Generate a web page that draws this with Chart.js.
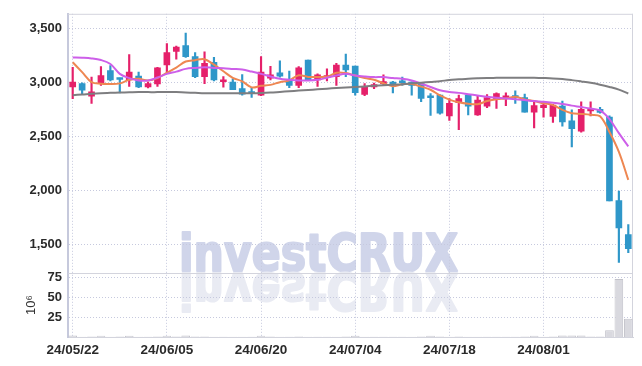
<!DOCTYPE html>
<html>
<head>
<meta charset="utf-8">
<script src="https://cdn.jsdelivr.net/npm/chart.js@4.4.1/dist/chart.umd.min.js"></script>
<style>
  html, body { margin: 0; padding: 0; background: #fff; }
  #wrap { position: relative; width: 642px; height: 366px; }
</style>
</head>
<body>
<div id="wrap"><canvas id="chart" width="642" height="366"></canvas></div>
<script>
const dates = [
  '24/05/22', '24/05/23', '24/05/24', '24/05/27', '24/05/28', '24/05/29', '24/05/30', '24/05/31',
  '24/06/03', '24/06/04', '24/06/05', '24/06/07', '24/06/10', '24/06/11', '24/06/12', '24/06/13',
  '24/06/14', '24/06/17', '24/06/18', '24/06/19', '24/06/20', '24/06/21', '24/06/24', '24/06/25',
  '24/06/26', '24/06/27', '24/06/28', '24/07/01', '24/07/02', '24/07/03', '24/07/04', '24/07/05',
  '24/07/08', '24/07/09', '24/07/10', '24/07/11', '24/07/12', '24/07/15', '24/07/16', '24/07/17',
  '24/07/18', '24/07/19', '24/07/22', '24/07/23', '24/07/24', '24/07/25', '24/07/26', '24/07/29',
  '24/07/30', '24/07/31', '24/08/01', '24/08/02', '24/08/05', '24/08/06', '24/08/07', '24/08/08',
  '24/08/09', '24/08/12', '24/08/13', '24/08/14',
];

const opens = [
  2958, 2988, 2872, 2997, 3109, 3036, 3024, 3058, 2958, 2985,
  3161, 3286, 3340, 3240, 3054, 3186, 3006, 3003, 2942, 2905,
  2882, 3040, 3088, 3027, 2973, 3207, 3024, 3043, 3054, 3161,
  3152, 2888, 2958, 2988, 3003, 3009, 3003, 2988, 2872, 2882,
  2690, 2812, 2882, 2699, 2781, 2842, 2858, 2876, 2860, 2724,
  2767, 2685, 2781, 2645, 2548, 2736, 2751, 2679, 1906, 1591,
];
const highs = [
  3140, 2995, 3049, 3146, 3155, 3040, 3258, 3095, 3003, 3140,
  3359, 3337, 3456, 3277, 3282, 3231, 3054, 3033, 3073, 2955,
  3240, 3149, 3200, 3104, 3146, 3207, 3079, 3125, 3177, 3261,
  3152, 2988, 2994, 3070, 3010, 3049, 3006, 2994, 2897, 2885,
  2851, 2882, 2888, 2876, 2888, 2903, 2903, 2921, 2891, 2821,
  2821, 2797, 2827, 2745, 2821, 2821, 2770, 2690, 1994, 1683,
];
const lows = [
  2850, 2890, 2806, 2973, 3013, 2903, 2963, 2952, 2949, 2963,
  3095, 3216, 3231, 3043, 2988, 3013, 2955, 2933, 2882, 2862,
  2876, 3024, 3049, 2952, 2952, 3015, 2963, 3013, 2973, 3054,
  2882, 2876, 2942, 2973, 2903, 2973, 2882, 2821, 2694, 2706,
  2648, 2563, 2699, 2694, 2767, 2760, 2785, 2806, 2724, 2578,
  2678, 2630, 2594, 2402, 2539, 2690, 2715, 1903, 1333, 1424,
];
const closes = [
  3003, 2927, 2912, 3064, 3024, 3027, 3095, 2958, 2988, 3134,
  3277, 3328, 3237, 3054, 3177, 3024, 3024, 2933, 2891, 2897,
  3095, 3070, 3058, 2973, 3134, 3018, 3070, 3064, 3161, 3116,
  2906, 2958, 2979, 3003, 2979, 2997, 2973, 2851, 2858, 2715,
  2806, 2851, 2781, 2836, 2860, 2897, 2876, 2860, 2724, 2785,
  2791, 2791, 2633, 2572, 2751, 2751, 2721, 1903, 1652, 1460,
];
// trading volume, millions of shares
const volumes = [
  1.8, 0.4, 0.5, 1.6, 0.4, 0.5, 1.5, 0.4, 0.3, 0.5,
  1.6, 0.5, 1.8, 0.5, 0.6, 0.4, 0.3, 0.4, 0.4, 0.3,
  1.7, 0.5, 0.4, 0.3, 0.5, 0.4, 0.3, 0.3, 0.4, 0.5,
  1.5, 0.4, 0.3, 0.3, 0.3, 0.3, 0.4, 0.5, 1.6, 0.6,
  0.4, 0.5, 0.4, 0.4, 0.3, 0.3, 0.3, 0.3, 0.5, 1.7,
  0.4, 0.5, 1.8, 1.9, 1.8, 0.5, 0.6, 8.4, 73, 23,
];
// moving averages
const maShort = [
  3186, 3095, 3003, 2988, 2986, 2991, 3024, 3034, 3018, 3040,
  3090, 3137, 3193, 3206, 3215, 3164, 3103, 3042, 3010, 2954,
  2968, 2977, 3002, 3019, 3066, 3051, 3051, 3052, 3089, 3086,
  3063, 3041, 3024, 2992, 2965, 2983, 2986, 2961, 2932, 2879,
  2841, 2816, 2802, 2798, 2827, 2845, 2850, 2866, 2843, 2828,
  2807, 2790, 2745, 2714, 2708, 2700, 2686, 2540, 2356, 2097,
];
const maMid = [
  3231, 3228, 3222, 3207, 3170, 3079, 3040, 3018, 3018, 3045,
  3079, 3100, 3125, 3134, 3140, 3134, 3131, 3125, 3119, 3100,
  3079, 3055, 3033, 3024, 3018, 3018, 3024, 3043, 3064, 3079,
  3064, 3055, 3049, 3049, 3040, 3033, 3018, 2988, 2958, 2927,
  2912, 2903, 2891, 2879, 2867, 2858, 2851, 2845, 2836, 2827,
  2821, 2812, 2800, 2785, 2772, 2758, 2740, 2660, 2530, 2408,
];
const maLong = [
  2882, 2888, 2895, 2900, 2903, 2906, 2908, 2910, 2910, 2910,
  2912, 2910, 2906, 2903, 2900, 2900, 2900, 2900, 2900, 2900,
  2902, 2906, 2912, 2918, 2924, 2930, 2936, 2942, 2948, 2953,
  2958, 2963, 2968, 2973, 2978, 2983, 2990, 2997, 3004, 3011,
  3022, 3028, 3034, 3038, 3041, 3042, 3043, 3043, 3043, 3042,
  3040, 3037, 3031, 3021, 3009, 2996, 2979, 2958, 2933, 2897,
];

const priceTicks = [1500, 2000, 2500, 3000, 3500];
const volumeTicks = [25, 50, 75];
const labelEvery = 10;

const FONT = "'Liberation Sans', Arial, sans-serif";
const UP = '#e5206a';
const DOWN = '#2f97c9';
const GRID = '#c6c9de';
const FRAME = '#d3d4dd';

const candleColors = opens.map((o, i) => (closes[i] >= o ? UP : DOWN));

const watermark = {
  id: 'watermark',
  beforeDraw(chart) {
    const { ctx } = chart;
    const x = 179;
    const base = 271;
    ctx.save();
    ctx.font = "bold 52px 'DejaVu Sans Condensed', 'DejaVu Sans', sans-serif";
    const w = ctx.measureText('investCRUX').width;
    const sx = 279 / w;
    ctx.textBaseline = 'alphabetic';
    ctx.lineJoin = 'round';
    ctx.lineWidth = 2;
    ctx.fillStyle = ctx.strokeStyle = '#d0d5ea';
    ctx.save();
    ctx.translate(x, base);
    ctx.scale(sx, 1);
    ctx.fillText('investCRUX', 0, 0);
    ctx.strokeText('investCRUX', 0, 0);
    ctx.restore();
    ctx.fillStyle = ctx.strokeStyle = '#e9ebf3';
    ctx.translate(x, base + 2);
    ctx.scale(sx, -1);
    ctx.fillText('investCRUX', 0, 0);
    ctx.strokeText('investCRUX', 0, 0);
    ctx.restore();
  },
};

const frame = {
  id: 'frame',
  beforeDatasetsDraw(chart) {
    const { ctx, chartArea } = chart;
    const split = chart.scales.y.bottom;
    ctx.save();
    ctx.strokeStyle = FRAME;
    ctx.lineWidth = 1;
    ctx.beginPath();
    ctx.moveTo(chartArea.left, chartArea.top + 0.5);
    ctx.lineTo(chartArea.right, chartArea.top + 0.5);
    ctx.moveTo(chartArea.right - 0.5, chartArea.top);
    ctx.lineTo(chartArea.right - 0.5, chartArea.bottom);
    ctx.moveTo(chartArea.left, Math.round(split) + 0.5);
    ctx.lineTo(chartArea.right, Math.round(split) + 0.5);
    ctx.stroke();
    ctx.restore();
  },
};

const lineSet = (data, color) => ({
  type: 'line',
  data,
  borderColor: color,
  borderWidth: 2,
  pointRadius: 0,
  tension: 0.35,
  yAxisID: 'y',
  order: 0,
});

new Chart(document.getElementById('chart').getContext('2d'), {
  type: 'bar',
  data: {
    labels: dates,
    datasets: [
      lineSet(maLong, '#7e7e80'),
      lineSet(maMid, '#cd5fe9'),
      lineSet(maShort, '#ee8752'),
      {
        data: opens.map((o, i) => [o, closes[i]]),
        backgroundColor: candleColors,
        barThickness: 6,
        minBarLength: 2,
        grouped: false,
        yAxisID: 'y',
        order: 1,
      },
      {
        data: lows.map((l, i) => [l, highs[i]]),
        backgroundColor: candleColors,
        barThickness: 1.5,
        grouped: false,
        yAxisID: 'y',
        order: 2,
      },
      {
        data: volumes,
        backgroundColor: '#d9d9df',
        borderColor: '#c2c2ca',
        borderWidth: 1,
        barPercentage: 0.92,
        categoryPercentage: 1,
        grouped: false,
        yAxisID: 'yv',
        order: 3,
      },
    ],
  },
  options: {
    responsive: false,
    animation: false,
    devicePixelRatio: 1,
    layout: { padding: { top: 9, right: 9, left: 0, bottom: 0 } },
    plugins: {
      legend: { display: false },
      tooltip: { enabled: false },
    },
    scales: {
      x: {
        offset: true,
        grid: { offset: false, color: GRID, drawTicks: false },
        border: { display: true, color: FRAME, width: 1, dash: [1, 2] },
        ticks: {
          autoSkip: false,
          maxRotation: 0,
          padding: 5,
          color: '#2a2a2a',
          font: { family: FONT, size: 13.5, weight: 'bold' },
        },
        afterBuildTicks: (axis) => {
          axis.ticks = axis.ticks.filter((t) => t.value % labelEvery === 0);
        },
        afterFit: (axis) => {
          axis.height = 29;
        },
      },
      yv: {
        position: 'left',
        stack: 'panes',
        stackWeight: 65,
        min: 0,
        max: 80.5,
        grid: { color: GRID, drawTicks: false },
        border: { display: true, color: '#c6c9dc', width: 2, dash: [1, 2] },
        ticks: {
          autoSkip: false,
          padding: 6,
          color: '#2a2a2a',
          font: { family: FONT, size: 13, weight: 'bold' },
        },
        title: {
          display: true,
          text: '10⁶',
          color: '#333',
          font: { family: FONT, size: 13 },
          padding: { top: 24, bottom: 0 },
        },
        afterBuildTicks: (axis) => {
          axis.ticks = volumeTicks.map((value) => ({ value }));
        },
        afterFit: (axis) => {
          axis.width = 68;
        },
      },
      y: {
        position: 'left',
        stack: 'panes',
        stackWeight: 263,
        min: 1236,
        max: 3635,
        grid: { color: GRID, drawTicks: false },
        border: { display: true, color: '#c6c9dc', width: 2, dash: [1, 2] },
        ticks: {
          autoSkip: false,
          padding: 6,
          color: '#2a2a2a',
          font: { family: FONT, size: 13, weight: 'bold' },
          callback: (v) => Number(v).toLocaleString('en-US'),
        },
        afterBuildTicks: (axis) => {
          axis.ticks = priceTicks.map((value) => ({ value }));
        },
        afterFit: (axis) => {
          axis.width = 68;
        },
      },
    },
  },
  plugins: [watermark, frame],
});
</script>
</body>
</html>
